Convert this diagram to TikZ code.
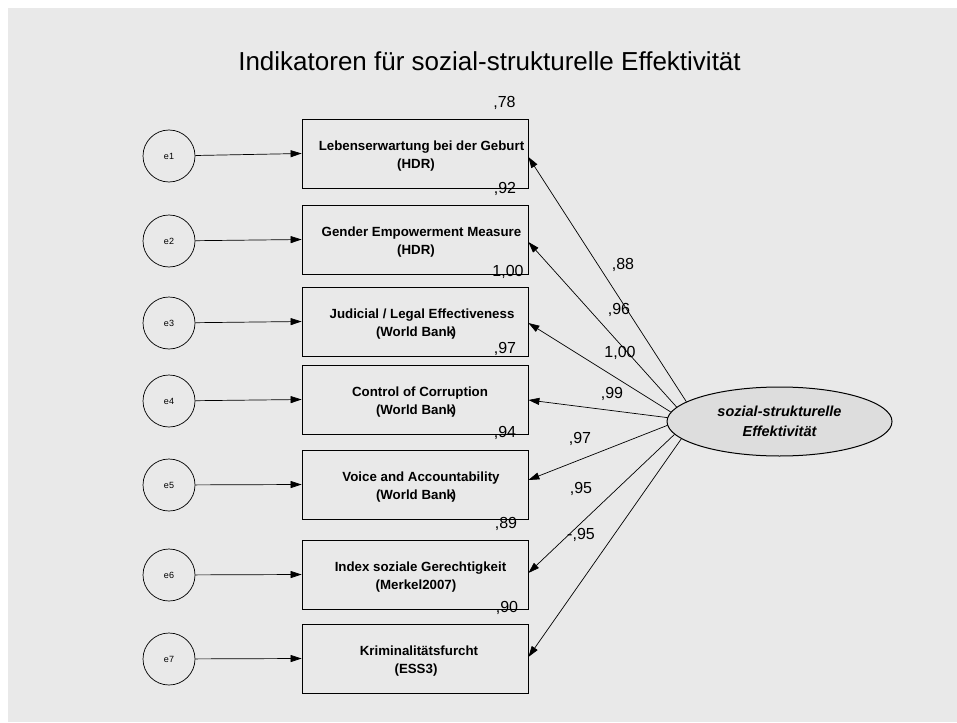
\documentclass[tikz,border=0pt]{standalone}
\usepackage{fontspec}
\setmainfont{Liberation Sans}
\usetikzlibrary{arrows.meta,shapes.geometric}
\definecolor{bgc}{RGB}{233,233,233}
\definecolor{ellc}{RGB}{221,221,221}
\begin{document}
\begin{tikzpicture}[x=1pt,y=-1pt,
  ind/.style={draw=black,line width=0.8pt,minimum width=226pt,minimum height=69pt,inner sep=0pt},
  indtxt/.style={inner sep=0pt,align=center,font=\fontsize{13.3}{17.3}\selectfont\bfseries},
  err/.style={circle,draw=black,line width=0.7pt,minimum size=52pt,inner sep=0pt,font=\fontsize{9}{11}\selectfont},
  num/.style={inner sep=0pt,font=\fontsize{16}{18}\selectfont},
  arr/.style={line width=0.7pt,-{Triangle[length=11pt,width=7pt]}}
]
\useasboundingbox (0,0) rectangle (957,722);
\fill[white] (0,0) rectangle (957,722);
\fill[bgc] (8,8) rectangle (957,722);

\node[inner sep=0pt,font=\fontsize{26}{31}\selectfont] (title) at (489.5,61) {Indikatoren für sozial-strukturelle Effektivität};

% indicator boxes
\node[ind] (b1) at (415,153.5) {};
\node[ind] (b2) at (415,239.5) {};
\node[ind] (b3) at (415,321.5) {};
\node[ind] (b4) at (415,399.5) {};
\node[ind] (b5) at (415,484.5) {};
\node[ind] (b6) at (415,574.5) {};
\node[ind] (b7) at (415,658.5) {};
\node[indtxt] (t1) at (416,156) {\hspace*{11pt}Lebenserwartung bei der Geburt\\(HDR)};
\node[indtxt] (t2) at (416,242) {\hspace*{11pt}Gender Empowerment Measure\\(HDR)};
\node[indtxt] (t3) at (416,324) {\hspace*{12pt}Judicial / Legal Effectiveness\\(World Bank\kern-2.5pt)};
\node[indtxt] (t4) at (416,402) {\hspace*{8pt}Control of Corruption\\(World Bank\kern-2.5pt)};
\node[indtxt] (t5) at (416,487) {\hspace*{10pt}Voice and Accountability\\(World Bank\kern-2.5pt)};
\node[indtxt] (t6) at (416,577) {\hspace*{9pt}Index soziale Gerechtigkeit\\(Merkel2007)};
\node[indtxt] (t7) at (416,661) {\hspace*{6pt}Kriminalitätsfurcht\\(ESS3)};

% error circles
\node[err] (e1) at (169,156) {e1};
\node[err] (e2) at (169,241) {e2};
\node[err] (e3) at (169,323) {e3};
\node[err] (e4) at (169,401) {e4};
\node[err] (e5) at (169,485) {e5};
\node[err] (e6) at (169,575) {e6};
\node[err] (e7) at (169,659) {e7};

\foreach \i in {1,...,7} {\draw[arr] (e\i) -- (b\i.west);}

% latent
\node[ellipse,draw=black,line width=1pt,fill=ellc,minimum width=225pt,minimum height=69pt,inner sep=0pt,align=center,font=\fontsize{14.5}{20}\selectfont\bfseries\itshape] (lat) at (779.5,421.5) {sozial-strukturelle\\Effektivität};

\draw[arr] (lat.168.7) -- ([yshift=-3.5pt]b1.east);
\draw[arr] (lat.172.2) -- ([yshift=-2.5pt]b2.east);
\draw[arr] (lat.175.6) -- ([yshift=-1.5pt]b3.east);
\draw[arr] (lat.178.7) -- ([yshift=-0.5pt]b4.east);
\draw[arr] (lat.182.8) -- ([yshift=4.5pt]b5.east);
\draw[arr] (lat.187.2) -- ([yshift=1.5pt]b6.east);
\draw[arr] (lat.190.4) -- ([yshift=1.5pt]b7.east);

% squared multiple correlations
\node[num] (r1) at (504.5,103) {,78};
\node[num] (r2) at (505,189) {,92};
\node[num] (r3) at (508,272) {1,00};
\node[num] (r4) at (505,349) {,97};
\node[num] (r5) at (505,433) {,94};
\node[num] (r6) at (506,524) {,89};
\node[num] (r7) at (507,608) {,90};

% loadings
\node[num] (l1) at (623,265) {,88};
\node[num] (l2) at (619,310) {,96};
\node[num] (l3) at (620,353) {1,00};
\node[num] (l4) at (612,394) {,99};
\node[num] (l5) at (580,439) {,97};
\node[num] (l6) at (581,489) {,95};
\node[num] (l7) at (581,535) {-,95};
\end{tikzpicture}
\end{document}
